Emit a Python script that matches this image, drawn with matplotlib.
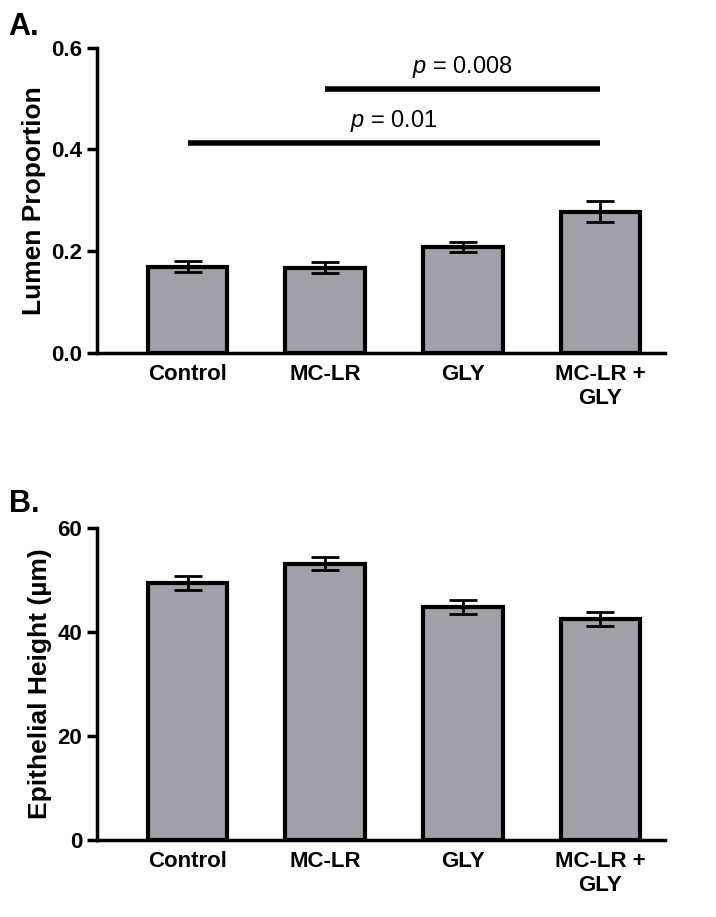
import matplotlib
matplotlib.use('Agg')
import matplotlib.pyplot as plt
import numpy as np

plt.rcParams['font.family'] = ['Liberation Sans', 'DejaVu Sans']
plt.rcParams['font.weight'] = 'bold'
plt.rcParams['mathtext.fontset'] = 'custom'
plt.rcParams['mathtext.it'] = 'Liberation Sans:italic:normal'
plt.rcParams['mathtext.rm'] = 'Liberation Sans:normal'

groups = ['Control', 'MC-LR', 'GLY', 'MC-LR +\nGLY']
lumen = [0.170, 0.168, 0.208, 0.278]
lumen_err = [0.010, 0.010, 0.010, 0.020]
height = [49.5, 53.2, 44.8, 42.5]
height_err = [1.3, 1.3, 1.4, 1.3]
brackets = [(1, 3, 0.519, '0.008'), (0, 3, 0.413, '0.01')]

fig = plt.figure(figsize=(7.16, 9.17), dpi=100)
axA = fig.add_axes([0.135, 0.615, 0.794, 0.333])
axB = fig.add_axes([0.135, 0.084, 0.794, 0.340])
x = np.arange(len(groups))

def style(ax, vals, errs, ymax, step, label):
    ax.bar(x, vals, width=0.58, color='#a0a0a6', edgecolor='black', linewidth=3, zorder=2)
    ax.errorbar(x, vals, yerr=errs, fmt='none', ecolor='black', elinewidth=2, capsize=10, capthick=2, zorder=3)
    ax.set_xlim(-0.66, 3.47)
    ax.set_ylim(0, ymax)
    ax.set_yticks(np.arange(0, ymax + step / 2, step))
    ax.set_xticks(x)
    ax.set_xticklabels(groups, fontsize=17, fontweight='bold')
    ax.set_ylabel(label, fontsize=19, fontweight='bold')
    for s in ['top', 'right']:
        ax.spines[s].set_visible(False)
    for s in ['left', 'bottom']:
        ax.spines[s].set_linewidth(2.5)
    ax.tick_params(axis='both', width=2.5, length=7, labelsize=16)
    ax.tick_params(axis='x', length=0, pad=8)

style(axA, lumen, lumen_err, 0.6, 0.2, 'Lumen Proportion')
axA.set_yticklabels(['0.0', '0.2', '0.4', '0.6'])
style(axB, height, height_err, 60, 20, 'Epithelial Height (µm)')

for a, b, y, p in brackets:
    axA.plot([a, b], [y, y], color='black', lw=4, clip_on=False, solid_capstyle='butt')
    axA.text((a + b) / 2, y + 0.018, r'$p$ = ' + p, ha='center', va='bottom', fontsize=17, fontweight='normal')

fig.text(0.012, 0.962, 'A.', fontsize=22, fontweight='bold')
fig.text(0.012, 0.442, 'B.', fontsize=22, fontweight='bold')

fig.savefig('out.png', dpi=100)
